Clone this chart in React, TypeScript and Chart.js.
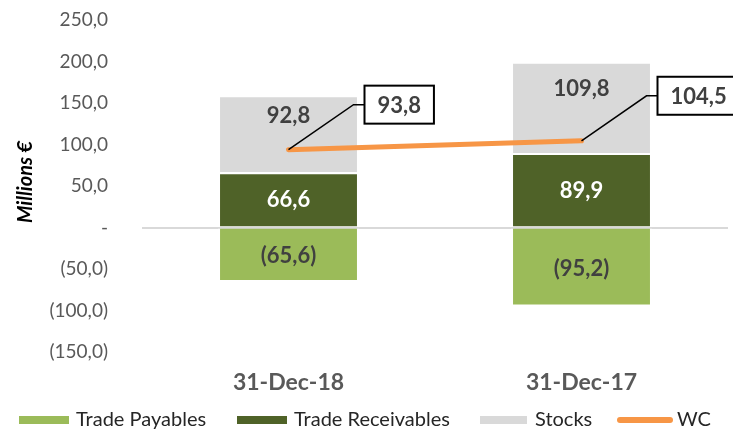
import { useEffect, useRef } from "react";
import { Chart, registerables } from "chart.js";

Chart.register(...registerables);

const categories = ["31-Dec-18", "31-Dec-17"];
const tradePayables = [-65.6, -95.2];
const tradeReceivables = [66.6, 89.9];
const stocks = [92.8, 109.8];
const wc = [93.8, 104.5];
const yTicks = [-150, -100, -50, 0, 50, 100, 150, 200, 250];
const seriesNames = ["Trade Payables", "Trade Receivables", "Stocks", "WC"];
const seriesColors = ["#9BBB59", "#4F6228", "#D9D9D9", "#F79646"];

const FONT = "Lato, 'Noto Sans', sans-serif";

function fmt(v: number): string {
  if (Math.abs(v) < 1e-9) return "-";
  const s = Math.abs(v).toFixed(1).replace(".", ",");
  return v < 0 ? `(${s})` : s;
}

const overlayPlugin = {
  id: "overlay",
  afterDatasetsDraw(chart: any) {
    const ctx = chart.ctx;
    ctx.save();
    ctx.font = `bold 22px ${FONT}`;
    ctx.textAlign = "center";
    ctx.textBaseline = "middle";
    chart.data.datasets.forEach((ds: any, di: number) => {
      if (ds.type === "line") return;
      const meta = chart.getDatasetMeta(di);
      meta.data.forEach((el: any, i: number) => {
        const p = el.getProps(["x", "y", "base"], true);
        let cy = (p.y + p.base) / 2;
        if (ds.label === seriesNames[2]) cy -= 19;
        ctx.fillStyle = ds.label === seriesNames[1] ? "#FFFFFF" : "#404040";
        ctx.fillText(fmt(ds.data[i]), p.x, cy + 1);
      });
    });
    // callouts for WC
    const lineIdx = chart.data.datasets.findIndex((d: any) => d.type === "line");
    const lm = chart.getDatasetMeta(lineIdx);
    lm.data.forEach((pt: any, i: number) => {
      const px = pt.x;
      const py = pt.y;
      const ex = px + 65;
      const ey = py - 45;
      const bx = px + 76;
      const txt = fmt(chart.data.datasets[lineIdx].data[i]);
      const tw = ctx.measureText(txt).width;
      const bw = tw + 26;
      const bh = 38;
      ctx.strokeStyle = "#000000";
      ctx.lineWidth = 1.5;
      ctx.beginPath();
      ctx.moveTo(px, py);
      ctx.lineTo(ex, ey);
      ctx.lineTo(bx, ey);
      ctx.stroke();
      ctx.fillStyle = "#FFFFFF";
      ctx.fillRect(bx, ey - bh / 2, bw, bh);
      ctx.lineWidth = 2;
      ctx.strokeRect(bx, ey - bh / 2, bw, bh);
      ctx.fillStyle = "#404040";
      ctx.textAlign = "left";
      ctx.fillText(txt, bx + 13, ey + 1);
      ctx.textAlign = "center";
    });
    ctx.restore();
  },
  afterDraw(chart: any) {
    const ctx = chart.ctx;
    ctx.save();
    // y-axis title
    ctx.translate(26, 182);
    ctx.rotate(-Math.PI / 2);
    ctx.font = `italic bold 20px ${FONT}`;
    ctx.fillStyle = "#000000";
    ctx.textAlign = "center";
    ctx.textBaseline = "middle";
    ctx.fillText("Millions €", 0, 0);
    ctx.restore();

    // legend
    ctx.save();
    ctx.font = `20px ${FONT}`;
    ctx.textBaseline = "middle";
    ctx.textAlign = "left";
    const starts = [19, 237, 480, 617];
    const ly = 420;
    seriesNames.forEach((name, i) => {
      const x = starts[i];
      if (i === 3) {
        ctx.strokeStyle = seriesColors[i];
        ctx.lineWidth = 6;
        ctx.lineCap = "round";
        ctx.beginPath();
        ctx.moveTo(x + 3, ly);
        ctx.lineTo(x + 53, ly);
        ctx.stroke();
        ctx.fillStyle = "#262626";
        ctx.fillText(name, x + 60, ly);
      } else {
        ctx.fillStyle = seriesColors[i];
        ctx.fillRect(x, ly - 4, i === 2 ? 47 : 50, 8);
        ctx.fillStyle = "#262626";
        ctx.fillText(name, x + (i === 2 ? 55 : 57), ly);
      }
    });
    ctx.restore();
  },
};

export default function App() {
  const ref = useRef<HTMLCanvasElement | null>(null);
  useEffect(() => {
    document.body.style.margin = "0";
    const canvas = ref.current;
    if (!canvas) return;
    const barCommon = {
      borderColor: "#FFFFFF",
      borderWidth: 2,
      stack: "s",
      order: 1,
      barPercentage: 0.481,
      categoryPercentage: 1,
    };
    const chart = new Chart(canvas, {
      type: "bar",
      data: {
        labels: categories,
        datasets: [
          {
            type: "line",
            label: seriesNames[3],
            data: wc,
            borderColor: seriesColors[3],
            backgroundColor: seriesColors[3],
            borderWidth: 5,
            borderCapStyle: "round",
            pointRadius: 0,
            pointHoverRadius: 0,
            stack: "wc",
            order: 0,
          } as any,
          { type: "bar", label: seriesNames[0], data: tradePayables, backgroundColor: seriesColors[0], ...barCommon },
          { type: "bar", label: seriesNames[1], data: tradeReceivables, backgroundColor: seriesColors[1], ...barCommon },
          { type: "bar", label: seriesNames[2], data: stocks, backgroundColor: seriesColors[2], ...barCommon },
        ],
      },
      options: {
        animation: false,
        responsive: false,
        maintainAspectRatio: false,
        layout: { padding: { top: 20, right: 5, left: 0, bottom: 0 }, autoPadding: false },
        plugins: {
          legend: { display: false },
          tooltip: { enabled: false },
        },
        scales: {
          x: {
            stacked: true,
            grid: { display: false, drawTicks: false },
            border: { display: false },
            ticks: {
              color: "#595959",
              font: { family: FONT, size: 23, weight: "bold" },
              padding: 17,
            },
            afterFit: (s: any) => {
              s.height = 77;
            },
          },
          y: {
            stacked: true,
            min: -150,
            max: 250,
            z: 1,
            afterBuildTicks: (s: any) => {
              s.ticks = yTicks.map((v) => ({ value: v }));
            },
            ticks: {
              callback: (v: any) => fmt(Number(v)),
              color: "#595959",
              font: { family: FONT, size: 19 },
              padding: 0,
            },
            grid: {
              color: (c: any) => (c.tick && c.tick.value === 0 ? "#D9D9D9" : "rgba(0,0,0,0)"),
              lineWidth: 2,
              drawTicks: true,
              tickLength: 34,
              tickColor: "rgba(0,0,0,0)",
            },
            border: { display: false },
            afterFit: (s: any) => {
              s.width = 142;
            },
          },
        },
      } as any,
      plugins: [overlayPlugin],
    });
    return () => chart.destroy();
  }, []);
  return (
    <div style={{ position: "absolute", left: 0, top: 0, width: 733, height: 429 }}>
      <canvas ref={ref} width={733} height={429} style={{ width: 733, height: 429 }} />
    </div>
  );
}
